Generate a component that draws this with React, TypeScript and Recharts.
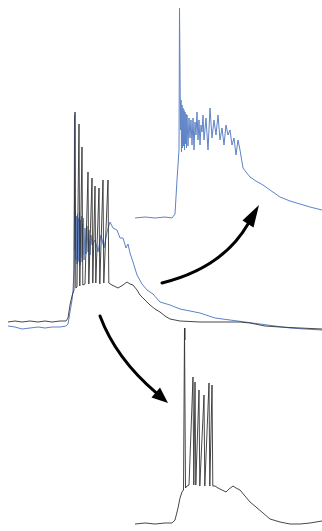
import { LineChart, Line, XAxis, YAxis, ReferenceLine } from 'recharts';

// traces as [time, value] pairs, time in ms, value in arbitrary units
const mainBlue: [number, number][] = [
  [0, -2], [7, -3], [14, -5], [22, -4], [30, -3], [37, -4], [44, -3], [52, -3], [58, -2],
  [60, 0], [62, 12], [64, 24], [65, 34], [66, 54], [66.5, 209], [67, 74], [67.5, 112],
  [68, 64], [68.5, 108], [69, 60], [69.5, 110], [70, 64], [70.5, 106], [71, 62], [71.5, 112],
  [72, 59], [72.5, 104], [73, 66], [73.5, 108], [74, 62], [74.5, 100], [75, 69], [75.5, 106],
  [76, 64], [77, 96], [78, 70], [79, 98], [80, 72], [81, 94], [82, 69], [83, 89], [84, 79],
  [87, 84], [90, 72], [93, 89], [96, 76], [99, 92], [102, 102], [105, 96], [109, 94],
  [112, 86], [115, 86], [118, 76], [120, 80], [122, 71], [125, 62], [129, 49], [134, 40],
  [139, 34], [145, 30], [152, 22], [162, 19], [172, 15], [182, 13], [192, 11], [207, 6],
  [222, 4], [237, 2], [252, 0], [267, -2], [282, -4], [297, -5], [314, -6],
];

const mainBlack: [number, number][] = [
  [0, 2], [7, 3], [14, 2], [22, 3], [30, 2], [37, 3], [44, 2], [52, 3], [58, 3],
  [60, 6], [62, 19], [64, 28], [66, 34], [67, 212], [67.8, 36], [69, 37], [71, 200],
  [71.8, 38], [74, 177], [74.8, 39], [77, 40], [80, 152], [80.8, 40], [84, 146], [84.8, 41],
  [87, 138], [87.8, 41], [91, 136], [91.8, 40], [95, 144], [95.8, 41], [100, 144], [100.8, 41],
  [104, 39], [110, 36], [115, 39], [119, 42], [122, 40], [125, 39], [129, 34], [132, 29],
  [137, 24], [142, 19], [147, 15], [152, 12], [157, 8], [162, 5], [172, 3], [192, 2],
  [212, 2], [232, 2], [242, 1], [257, -2], [272, -3], [292, -4], [314, -5],
];

const insetBlue: [number, number][] = [
  [0, 0], [10, 1], [20, 0], [30, 1], [37, 0], [40, 4], [42, 38], [43, 53], [44, 68],
  [44.5, 210], [45.5, 88], [46, 118], [46.5, 66], [47, 113], [47.5, 70], [48, 110],
  [48.5, 72], [49, 108], [49.5, 68], [50, 106], [50.5, 74], [51, 104], [51.5, 70], [52, 103],
  [53, 72], [54, 100], [55, 80], [56, 98], [57, 73], [58, 100], [59, 68],
  [60, 96], [61, 83], [62, 106], [63, 78], [64, 98], [65, 73], [66, 93], [67, 86],
  [68, 103], [69, 78], [71, 100], [73, 68], [75, 110], [77, 80], [79, 98], [81, 83],
  [83, 103], [85, 78], [87, 90], [89, 73], [91, 93], [93, 83], [95, 88], [97, 73],
  [99, 80], [101, 63], [103, 78], [105, 68], [108, 50], [111, 46], [115, 41], [121, 37],
  [128, 33], [135, 28], [145, 21], [155, 17], [165, 14], [175, 11], [187, 8],
];

const insetBlack: [number, number][] = [
  [0, 1], [10, 2], [20, 1], [30, 2], [37, 2], [40, 5], [43, 17], [45, 27], [47, 33],
  [48.5, 35], [49.5, 197], [50.5, 37], [52, 39], [54, 40], [58, 148], [58.8, 40],
  [60, 143], [60.8, 40], [64, 135], [64.8, 39], [69, 130], [69.8, 39], [74, 142], [74.8, 39],
  [77, 140], [77.8, 39], [80, 39], [83, 37], [87, 35], [91, 33], [94, 36], [98, 39],
  [101, 37], [105, 35], [110, 29], [115, 23], [121, 18], [128, 12], [135, 6], [145, 3],
  [155, 1], [165, 1], [175, 2], [187, 4],
];

const stimTick = [{ x: 177, y: -4 }, { x: 177, y: -16 }];

const BLUE = '#5f83c6';
const BLACK = '#333333';

const toPts = (arr: [number, number][]) => arr.map(([t, v]) => ({ t, v }));

function Trace({
  left, top, width, height, xDomain, yDomain, traces, children,
}: {
  left: number; top: number; width: number; height: number;
  xDomain: [number, number]; yDomain: [number, number];
  traces: { data: [number, number][]; color: string; width?: number }[];
  children?: React.ReactNode;
}) {
  return (
    <div style={{ position: 'absolute', left, top, width, height }}>
      <LineChart width={width} height={height} margin={{ top: 0, right: 0, bottom: 0, left: 0 }}>
        <XAxis type="number" dataKey="t" domain={xDomain} hide allowDataOverflow />
        <YAxis type="number" domain={yDomain} hide allowDataOverflow />
        {traces.map((tr, i) => (
          <Line
            key={i}
            data={toPts(tr.data)}
            dataKey="v"
            type="linear"
            stroke={tr.color}
            strokeWidth={tr.width ?? 1}
            dot={false}
            isAnimationActive={false}
          />
        ))}
        {children}
      </LineChart>
    </div>
  );
}

export default function App() {
  return (
    <div style={{ position: 'absolute', left: 0, top: 0, width: 322, height: 531, background: '#fff' }}>
      <Trace
        left={8} top={100} width={314} height={240}
        xDomain={[0, 314]} yDomain={[-16, 224]}
        traces={[
          { data: mainBlue, color: BLUE },
          { data: mainBlack, color: BLACK, width: 0.9 },
        ]}
      >
        <ReferenceLine segment={stimTick} stroke={BLACK} strokeWidth={1} />
      </Trace>
      <Trace
        left={135} top={0} width={187} height={225}
        xDomain={[0, 187]} yDomain={[-7, 218]}
        traces={[{ data: insetBlue, color: BLUE }]}
      />
      <Trace
        left={135} top={320} width={187} height={211}
        xDomain={[0, 187]} yDomain={[-6, 205]}
        traces={[{ data: insetBlack, color: BLACK, width: 0.9 }]}
      />
      <svg width={322} height={531} style={{ position: 'absolute', left: 0, top: 0, pointerEvents: 'none' }}>
        <path d="M162,283 Q222.7,267.8 248,224" fill="none" stroke="#000" strokeWidth={3} strokeLinecap="round" />
        <polygon points="259,205 253.5,227.5 242.5,220.5" fill="#000" />
        <path d="M100,316 Q115.7,358.2 156,392.6" fill="none" stroke="#000" strokeWidth={3} strokeLinecap="round" />
        <polygon points="168,403 151.5,397.5 160,387.5" fill="#000" />
      </svg>
    </div>
  );
}
